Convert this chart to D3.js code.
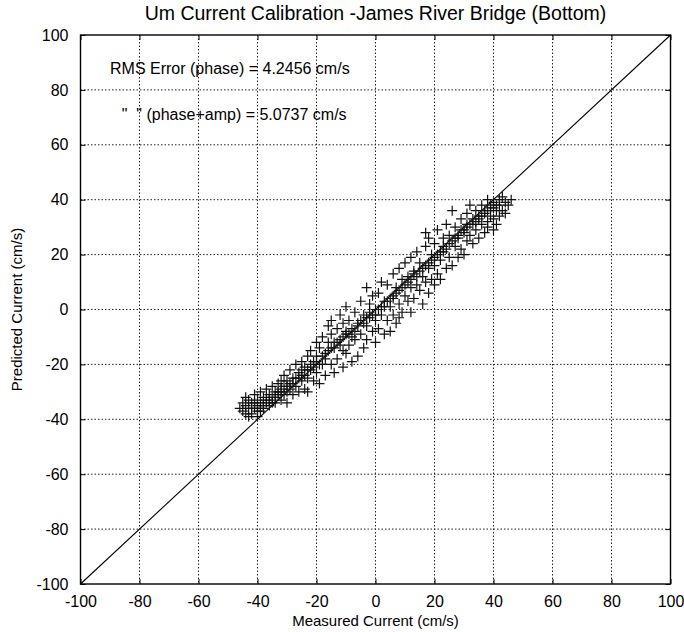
<!DOCTYPE html>
<html>
<head>
<meta charset="utf-8">
<script src="https://cdn.jsdelivr.net/npm/d3@7/dist/d3.min.js"></script>
<style>
  html, body { margin: 0; padding: 0; background: #fff; }
  text { font-family: "Liberation Sans", Arial, Helvetica, sans-serif; fill: #000; }
</style>
</head>
<body>
<svg id="chart" width="684" height="632"></svg>
<script>
const titleText = "Um Current Calibration -James River Bridge (Bottom)";
const xLabel = "Measured Current (cm/s)";
const yLabel = "Predicted Current (cm/s)";
const annotations = ["RMS Error (phase) = 4.2456 cm/s", "\"  \" (phase+amp) = 5.0737 cm/s"];
const annotationPos = [[-90, 88], [-86, 71]];
const tickValues = [-100, -80, -60, -40, -20, 0, 20, 40, 60, 80, 100];
const tickLabels = ["-100", "-80", "-60", "-40", "-20", "0", "20", "40", "60", "80", "100"];
const domain = [-100, 100];

// measured vs predicted pairs (cm/s)
const outerPoints = [
[-46,-36],[-45,-34],[-45,-37],[-44,-35],[-44,-32],[-43,-36],[-43,-33],[-42,-38],[-42,-34],[-41,-31],[-41,-36],[-40,-39],[-40,-33],[-40,-35],[-39,-30],[-39,-34],[-39,-37],
[-38,-32],[-38,-35],[-37,-29],[-37,-33],[-36,-31],[-36,-35],[-35,-28],[-35,-32],[-34,-30],[-34,-34],[-33,-27],[-33,-31],[-32,-29],[-32,-33],[-32,-26],
[-31,-28],[-31,-24],[-30,-30],[-30,-26],[-30,-34],[-29,-22],[-29,-27],[-28,-31],[-28,-25],[-27,-20],[-27,-28],[-26,-23],[-26,-30],[-25,-19],[-25,-26],[-25,-22],
[-24,-29],[-24,-21],[-23,-17],[-23,-25],[-23,-30],[-22,-22],[-22,-15],[-21,-26],[-21,-19],[-20,-12],[-20,-23],[-20,-17],[-19,-27],[-19,-14],[-18,-20],[-18,-10],
[-17,-24],[-17,-16],[-16,-6],[-16,-12],[-15,-20],[-15,-4],[-15,-9],[-14,-23],[-14,-14],[-13,-7],[-13,-18],[-12,-2],[-12,-11],[-11,-21],[-11,-15],[-11,-5],
[-10,1],[-10,-9],[-10,-16],[-9,-4],[-9,-13],[-8,-19],[-8,-7],[-7,-1],[-7,-11],[-6,-17],[-6,-5],[-5,3],[-5,-9],[-4,-14],[-4,-2],
[-3,8],[-3,-6],[-3,-11],[-2,2],[-2,-3],[-1,-8],[-1,5],[0,-12],[0,0],[0,-4],[1,6],[1,-7],[2,-2],[2,10],[3,-9],[3,3],
[4,-4],[4,9],[5,1],[5,-8],[6,13],[6,-2],[6,5],[7,-5],[7,8],[8,15],[8,2],[8,-3],[9,11],[9,-1],[10,5],[10,17],
[11,3],[11,12],[12,-1],[12,19],[12,8],[13,14],[13,4],[14,21],[14,9],[15,7],[15,17],[16,2],[16,12],[17,23],[17,10],[17,28],
[18,15],[18,6],[18,26],[19,20],[19,11],[20,24],[20,9],[20,16],[21,29],[21,13],[22,18],[22,11],[23,26],[23,21],[24,15],[24,31],
[25,19],[25,27],[26,36],[26,16],[27,23],[27,30],[28,19],[28,26],[29,33],[29,22],[30,28],[30,20],[31,35],[31,25],[31,30],
[32,27],[32,38],[33,31],[33,24],[34,36],[34,29],[35,33],[35,26],[36,38],[36,31],[37,28],[37,35],[38,40],[38,32],[38,30],
[39,37],[39,34],[40,29],[40,39],[40,33],[41,36],[41,31],[42,38],[42,34],[43,36],[44,39],[44,35],[45,38],[46,40]
];
const corePoints = [
[-44,-38],[-42,-36],[-40,-37],[-38,-36],[-36,-33],[-34,-32],[-32,-30],[-30,-28],[-28,-27],[-26,-25],[-24,-24],[-22,-20],[-20,-19],[-18,-17],[-16,-15],[-14,-12],[-12,-13],[-10,-8],[-8,-10],[-6,-6],[-4,-5],[-2,-1],[0,-2],[2,1],[4,3],[6,4],[8,7],[10,9],[12,11],[14,12],[16,15],[18,17],[20,19],[22,21],[24,22],[26,25],[28,27],[30,29],[32,31],[34,32],[36,34],[38,36],[40,37],[42,40],
[-43,-39],[-39,-36],[-35,-34],[-31,-31],[-27,-25],[-23,-22],[-19,-20],[-15,-14],[-11,-10],[-7,-8],[-3,-3],[1,0],[5,4],[9,8],[13,13],[17,16],[21,20],[25,24],[29,29],[33,33],[37,36],[41,38],[43,41],
[-41,-34],[-37,-34],[-33,-30],[-29,-29],[-25,-24],[-21,-21],[-17,-18],[-13,-12],[-9,-9],[-5,-4],[-1,-2],[3,1],[7,6],[11,10],[15,14],[19,18],[23,23],[27,26],[31,31],[35,34],[39,38]
];

(function () {
const svg = d3.select("#chart");
const pL = 80.5, pR = 670.5, pT = 35, pB = 584;
const x = d3.scaleLinear().domain(domain).range([pL, pR]);
const y = d3.scaleLinear().domain(domain).range([pB, pT]);
const fmt = d => tickLabels[tickValues.indexOf(d)];

// grid
const grid = svg.append("g");
grid.selectAll("line.v").data(tickValues.slice(1, -1)).enter().append("line").attr("class", "v")
  .attr("x1", d => x(d)).attr("x2", d => x(d)).attr("y1", pT).attr("y2", pB)
  .attr("stroke", "#222").attr("stroke-width", 1).attr("stroke-dasharray", "1.5,2");
grid.selectAll("line.h").data(tickValues.slice(1, -1)).enter().append("line").attr("class", "h")
  .attr("y1", d => y(d)).attr("y2", d => y(d)).attr("x1", pL).attr("x2", pR)
  .attr("stroke", "#222").attr("stroke-width", 1).attr("stroke-dasharray", "1.5,2");

// axes
const xAxis = d3.axisBottom(x).tickValues(tickValues).tickSize(-5).tickPadding(12).tickFormat(fmt);
const yAxis = d3.axisLeft(y).tickValues(tickValues).tickSize(-5).tickPadding(12).tickFormat(fmt);
const gx = svg.append("g").attr("transform", `translate(0,${pB})`).call(xAxis);
const gy = svg.append("g").attr("transform", `translate(${pL},0)`).call(yAxis);
const gx2 = svg.append("g").attr("transform", `translate(0,${pT})`).call(d3.axisTop(x).tickValues(tickValues).tickSize(-5).tickFormat(""));
const gy2 = svg.append("g").attr("transform", `translate(${pR},0)`).call(d3.axisRight(y).tickValues(tickValues).tickSize(-5).tickFormat(""));
[gx, gy, gx2, gy2].forEach(g => {
  g.select(".domain").remove();
  g.selectAll("line").attr("stroke", "#000");
  g.selectAll("text").style("font-size", "16px").style("font-family", "'Liberation Sans', Arial, sans-serif");
});

// frame
svg.append("rect").attr("x", pL).attr("y", pT).attr("width", pR - pL).attr("height", pB - pT)
  .attr("fill", "none").attr("stroke", "#000").attr("stroke-width", 1.4);

// 1:1 line
svg.append("line").attr("x1", x(-100)).attr("y1", y(-100)).attr("x2", x(100)).attr("y2", y(100))
  .attr("stroke", "#000").attr("stroke-width", 1.1);

// scatter '+'
const arm = 5;
const allPts = outerPoints.concat(corePoints);
svg.append("g").selectAll("path").data(allPts).enter().append("path")
  .attr("d", d => `M${x(d[0]) - arm},${y(d[1])}H${x(d[0]) + arm}M${x(d[0])},${y(d[1]) - arm}V${y(d[1]) + arm}`)
  .attr("stroke", "#111").attr("stroke-width", 1.2).attr("fill", "none");

// title & labels
svg.append("text").attr("x", (pL + pR) / 2).attr("y", 20).attr("text-anchor", "middle")
  .style("font-size", "19.5px").text(titleText);
svg.append("text").attr("x", (pL + pR) / 2).attr("y", 626).attr("text-anchor", "middle")
  .style("font-size", "15px").text(xLabel);
svg.append("text").attr("transform", `translate(22,${(pT + pB) / 2}) rotate(-90)`).attr("text-anchor", "middle")
  .style("font-size", "15px").text(yLabel);

// annotations
svg.append("g").selectAll("text").data(annotations).enter().append("text")
  .attr("x", (d, i) => x(annotationPos[i][0])).attr("y", (d, i) => y(annotationPos[i][1]))
  .attr("dy", "0.35em").style("font-size", "16px").style("white-space", "pre")
  .text(d => d);
})();
</script>
</body>
</html>
